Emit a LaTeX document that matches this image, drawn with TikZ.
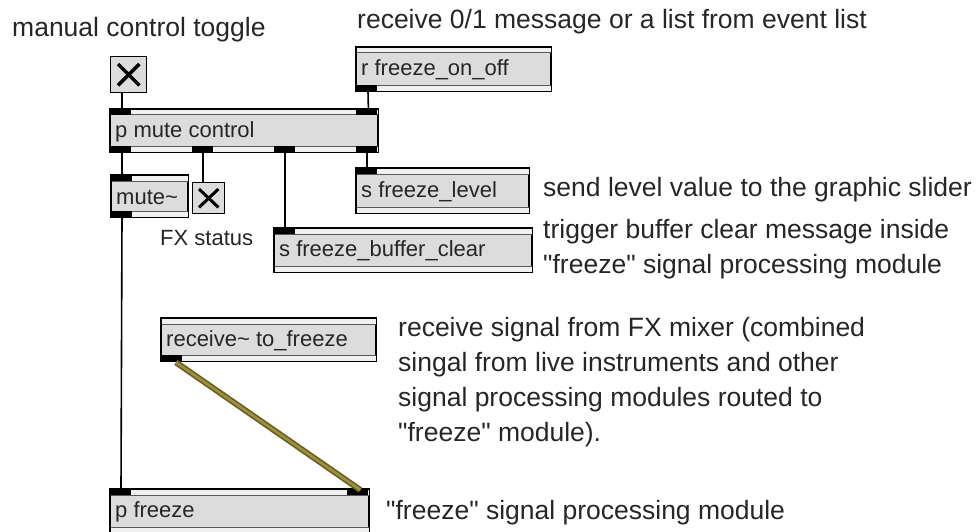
\documentclass[tikz,border=0pt]{standalone}
\usepackage{fontspec}
\setmainfont{Liberation Sans}[Ligatures=TeXOff]
\definecolor{boxfill}{HTML}{DCDCDC}
\definecolor{bandfill}{HTML}{F0F0F0}
\definecolor{bandline}{HTML}{5A5A5A}
\definecolor{olivedark}{HTML}{6B6122}
\definecolor{olivelight}{HTML}{9C9140}
\newcommand\mxbox[6]{%
  \node[maxobj, minimum width=#4pt, minimum height=#5pt] (#1) at (#2,#3) {};
  \fill[bandfill] ([shift={(0.6pt,-0.6pt)}]#1.north west) rectangle ([shift={(-0.6pt,-6pt)}]#1.north east);
  \fill[bandfill] ([shift={(0.6pt,0.6pt)}]#1.south west) rectangle ([shift={(-0.6pt,6pt)}]#1.south east);
  \draw[bandline, line width=1pt] ([yshift=-6pt]#1.north west) -- ([yshift=-6pt]#1.north east);
  \draw[bandline, line width=1pt] ([yshift=6pt]#1.south west) -- ([yshift=6pt]#1.south east);
  \draw[black, line width=1.4pt] (#1.north west) rectangle (#1.south east);
  \node[boxtxt] (#1-t) at ([shift={(5pt,-1pt)}]#1.west) {#6};
}
\newcommand\mxin[2]{\fill[black] ([xshift=#2pt]#1.north west) rectangle ([shift={(#2pt+21pt,-6pt)}]#1.north west);}
\newcommand\mxout[2]{\fill[black] ([xshift=#2pt]#1.south west) rectangle ([shift={(#2pt+21pt,6pt)}]#1.south west);}
\begin{document}
\begin{tikzpicture}[x=1pt,y=-1pt,
  maxobj/.style={draw=black, line width=1.4pt, fill=boxfill, anchor=north west, inner sep=0pt, rectangle},
  boxtxt/.style={anchor=west, inner sep=0pt, font=\fontsize{22}{26}\selectfont, text=black!85},
  togbox/.style={draw=black, line width=1.4pt, fill=boxfill, anchor=north west, inner sep=0pt, rectangle},
  lbl/.style={anchor=west, inner sep=0pt, font=\fontsize{26.5}{35}\selectfont, align=left, text=black!85},
  conn/.style={draw=black, line width=1.6pt},
  cord/.style={draw=olivedark, line width=6pt},
  cordin/.style={draw=olivelight, line width=2.5pt}]
\useasboundingbox (0,0) rectangle (979,532);

% toggles
\node[togbox, minimum width=36pt, minimum height=36pt] (tog) at (110,56) {};
\draw[line width=3.5pt] ([shift={(8pt,-8pt)}]tog.north west) -- ([shift={(-8pt,8pt)}]tog.south east);
\draw[line width=3.5pt] ([shift={(8pt,8pt)}]tog.south west) -- ([shift={(-8pt,-8pt)}]tog.north east);

\node[togbox, minimum width=32pt, minimum height=31pt] (tog2) at (192,182) {};
\draw[line width=3pt] ([shift={(7pt,-7pt)}]tog2.north west) -- ([shift={(-7pt,7pt)}]tog2.south east);
\draw[line width=3pt] ([shift={(7pt,7pt)}]tog2.south west) -- ([shift={(-7pt,-7pt)}]tog2.north east);

% object boxes
\mxbox{rfr}{356}{47}{194}{43}{r freeze\_on\_off}
\mxout{rfr}{0}
\mxbox{pmc}{110}{109}{267}{42}{p mute control}
\mxin{pmc}{0}\mxin{pmc}{246}
\mxout{pmc}{0}\mxout{pmc}{82}\mxout{pmc}{164}\mxout{pmc}{246}
\mxbox{mute}{111}{175}{76}{41}{mute\textasciitilde}
\mxin{mute}{0}\mxout{mute}{0}
\mxbox{sfl}{356}{168}{172}{44}{s freeze\_level}
\mxin{sfl}{0}
\mxbox{sfbc}{274}{228}{257}{43}{s freeze\_buffer\_clear}
\mxin{sfbc}{0}
\mxbox{recv}{161}{318}{214}{42}{receive\textasciitilde{} to\_freeze}
\mxout{recv}{0}
\mxbox{pfr}{110}{489}{258}{43}{p freeze}
\mxin{pfr}{0}\mxin{pfr}{237}

% connectors
\draw[conn] ([xshift=12pt]tog.south west) -- ([xshift=12pt]pmc.north west);
\draw[conn] ([xshift=12pt]rfr.south west) -- ([xshift=-10pt]pmc.north east);
\draw[conn] ([xshift=12pt]pmc.south west) -- ([xshift=11pt]mute.north west);
\draw[conn] ([xshift=93pt]pmc.south west) -- ([xshift=11pt]tog2.north west);
\draw[conn] ([xshift=175pt]pmc.south west) -- ([xshift=11pt]sfbc.north west);
\draw[conn] ([xshift=257pt]pmc.south west) -- ([xshift=11pt]sfl.north west);
\draw[conn] ([xshift=11pt]mute.south west) -- ([xshift=11pt]pfr.north west);
\draw[cord] ([shift={(15pt,-1pt)}]recv.south west) -- ([shift={(-9pt,-1pt)}]pfr.north east);
\draw[cordin] ([shift={(15pt,-1pt)}]recv.south west) -- ([shift={(-9pt,-1pt)}]pfr.north east);

% labels
\node[lbl] (l1) at (12,30) {manual control toggle};
\node[lbl] (l2) at (357,22) {receive 0/1 message or a list from event list};
\node[lbl] (l3) at (543,190) {send level value to the graphic slider};
\node[lbl] (l4) at (543,249) {trigger buffer clear message inside\\"freeze" signal processing module};
\node[lbl] (l5) at (398,382) {receive signal from FX mixer (combined\\singal from live instruments and other\\signal processing modules routed to\\"freeze" module).};
\node[lbl] (l6) at (386,513) {"freeze" signal processing module};
\node[lbl, font=\fontsize{22}{26}\selectfont] (l7) at (160,238) {FX status};
\end{tikzpicture}
\end{document}
